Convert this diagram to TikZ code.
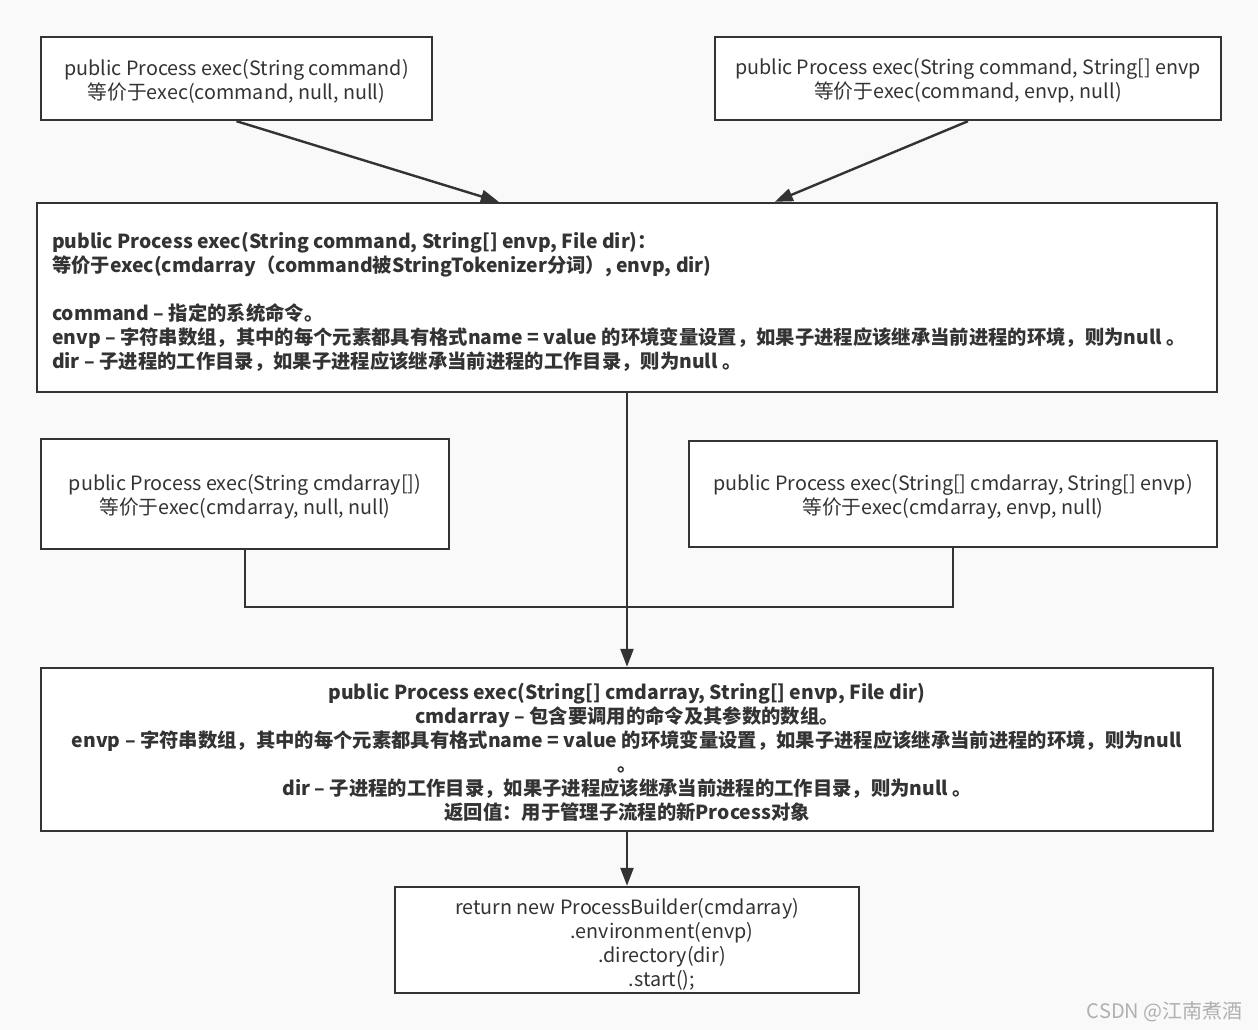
\documentclass[tikz,border=0pt]{standalone}
\usepackage{fontspec}
\setmainfont{Noto Sans CJK SC}
\usetikzlibrary{arrows.meta}
\definecolor{bg}{HTML}{F9F9F9}
\definecolor{lnc}{HTML}{333333}
\definecolor{txc}{HTML}{333333}
\definecolor{wmc}{HTML}{B0B0B0}
\begin{document}
\begin{tikzpicture}[x=0.75pt,y=-0.75pt,
  box/.style={draw=lnc, line width=1.8pt, fill=white, inner sep=0pt},
  txt/.style={inner sep=0pt, align=center, text=txc,
    font=\fontsize{14.8pt}{18pt}\selectfont},
  boldtxt/.style={txt, font=\fontsize{14.5pt}{18pt}\selectfont\bfseries},
  arr/.style={draw=lnc, line width=1.8pt, -{Triangle[length=13.5pt,width=9.75pt]}},
  conn/.style={draw=lnc, line width=1.8pt}]
\fill[bg] (0,0) rectangle (1258,1030);
\useasboundingbox (0,0) rectangle (1258,1030);

% boxes
\node[box, minimum width=293.25pt, minimum height=62.25pt] (a) at (236.5,78.5) {};
\node[box, minimum width=379.5pt, minimum height=62.25pt] (b) at (968,78.5) {};
\node[box, minimum width=885pt, minimum height=141.75pt] (c) at (627,297.5) {};
\node[box, minimum width=306pt, minimum height=82.5pt] (d) at (245,494) {};
\node[box, minimum width=396pt, minimum height=79.5pt] (e) at (953,494) {};
\node[box, minimum width=879pt, minimum height=122.25pt] (f) at (627,749.5) {};
\node[box, minimum width=348pt, minimum height=79.5pt] (g) at (627,940) {};

% texts
\node[txt] (ta) at ([yshift=-2pt]a.center)
  {public Process exec(String command)\\等价于exec(command, null, null)};
\node[txt] (tb) at ([yshift=-2pt]b.center)
  {public Process exec(String command, String[] envp\\等价于exec(command, envp, null)};
\node[boldtxt, align=left, anchor=west] (tc) at ([xshift=12pt,yshift=-3pt]c.west)
  {public Process exec(String command, String[] envp, File dir)：\\
   等价于exec(cmdarray（command被StringTokenizer分词）, envp, dir)\\[18pt]
   command – 指定的系统命令。\\
   envp – 字符串数组，其中的每个元素都具有格式name = value 的环境变量设置，如果子进程应该继承当前进程的环境，则为null 。\\
   dir – 子进程的工作目录，如果子进程应该继承当前进程的工作目录，则为null 。};
\node[txt] (td) at ([yshift=-2pt]d.center)
  {public Process exec(String cmdarray[])\\等价于exec(cmdarray, null, null)};
\node[txt] (te) at ([yshift=-2pt]e.center)
  {public Process exec(String[] cmdarray, String[] envp)\\等价于exec(cmdarray, envp, null)};
\node[boldtxt] (tf) at ([yshift=-2pt]f.center)
  {public Process exec(String[] cmdarray, String[] envp, File dir)\\
   cmdarray – 包含要调用的命令及其参数的数组。\\
   envp – 字符串数组，其中的每个元素都具有格式name = value 的环境变量设置，如果子进程应该继承当前进程的环境，则为null\\
   。\\
   dir – 子进程的工作目录，如果子进程应该继承当前进程的工作目录，则为null 。\\
   返回值：用于管理子流程的新Process对象};
\node[txt] (tg) at ([yshift=-3pt]g.center)
  {return new ProcessBuilder(cmdarray)\\
   \hspace*{52.5pt}.environment(envp)\\
   \hspace*{52.5pt}.directory(dir)\\
   \hspace*{52.5pt}.start();};

\node[text=wmc, inner sep=0pt, font=\fontsize{15pt}{17pt}\selectfont, anchor=east] (wm) at (1243,1012) {CSDN @江南煮酒};

\coordinate (m) at (627,607);

\draw[arr] (a.south) -- ([xshift=347.25pt]c.north west);
\draw[arr] (b.south) -- ([xshift=554.25pt]c.north west);
\draw[arr] (c.south) -- (f.north);
\draw[conn] (d.south) |- (m);
\draw[conn] (e.south) |- (m);
\draw[arr] (f.south) -- (g.north);
\end{tikzpicture}
\end{document}
